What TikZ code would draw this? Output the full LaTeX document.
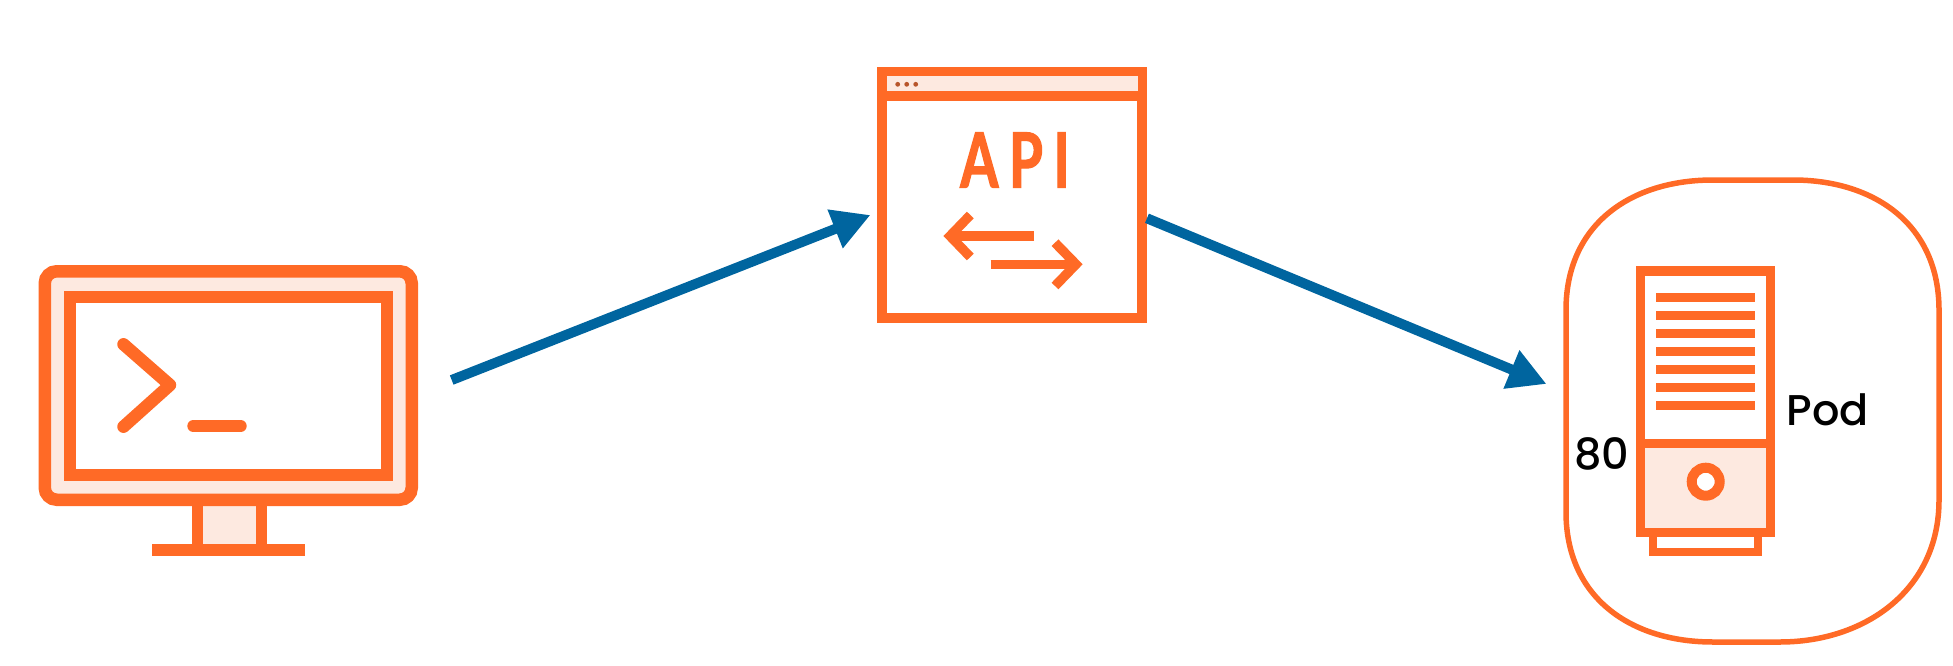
\documentclass[tikz,border=0pt]{standalone}
\usepackage{fontspec}
\usetikzlibrary{arrows.meta,calc}
\setmainfont{Poppins}
\newfontfamily\podfont{Poppins}[UprightFont=* Medium]
\newfontfamily\apifont{Lato}[FakeStretch=0.72,LetterSpace=14,BoldFeatures={FakeBold=1.6}]
\definecolor{iconorange}{HTML}{FF6A26}
\definecolor{iconlight}{HTML}{FDE9E0}
\definecolor{arrowblue}{HTML}{00659F}
\definecolor{dotbrown}{HTML}{B8552B}
\tikzset{
  iconbox/.style={draw=iconorange,rectangle,inner sep=0pt,outer sep=0.5\pgflinewidth},
  stroke/.style={draw=iconorange,line width=#1},
  roundstroke/.style={draw=iconorange,line width=#1,line cap=round,line join=round},
  flow/.style={draw=arrowblue,fill=arrowblue,line width=10pt,-{Triangle[length=38pt,width=39pt]}},
  podlabel/.style={inner sep=0pt,text=black,font=\podfont\fontsize{43}{47}\selectfont},
}
\begin{document}
\begin{tikzpicture}[x=1pt,y=-1pt]
\useasboundingbox (0,0) rectangle (1953,666);
% terminal
\draw[stroke=11pt,fill=iconlight] (197.5,500) rectangle (261,550);
\fill[iconorange] (152.3,544) rectangle (304.7,556);
\node[iconbox,line width=12.5pt,fill=iconlight,rounded corners=12pt,minimum width=367pt,minimum height=228.5pt] (terminal) at (228.25,385.5) {};
\node[iconbox,line width=12pt,fill=white,minimum width=317.5pt,minimum height=178pt] (screen) at (228.25,385.7) {};
\draw[roundstroke=12.5pt] (123.5,344.3) -- (170,385) -- (123.5,426.7);
\draw[roundstroke=12pt] (193.3,426) -- (240.7,426);
% api window
\node[iconbox,line width=9.5pt,fill=white,minimum width=260pt,minimum height=246pt] (api) at (1012.2,194.8) {};
\fill[iconlight] (886.7,76.3) rectangle (1137.7,91.3);
\draw[stroke=9.4pt] (882.2,96) -- (1142.2,96);
\foreach \dx in {897.7,906.7,915.7} \fill[dotbrown] (\dx,84.3) circle (2.4pt);
\node[inner sep=0pt,text=iconorange,font=\apifont\fontsize{76}{80}\bfseries\selectfont] (apitext) at (1015,160) {API};
\draw[stroke=9.5pt] (1034,236) -- (952,236);
\draw[stroke=9.5pt,line join=miter] (970.3,215) -- (950,236) -- (970.3,257);
\draw[stroke=9.5pt] (990.7,264.3) -- (1073,264.3);
\draw[stroke=9.5pt,line join=miter] (1055,242.7) -- (1076,264.3) -- (1055,286);
% pod outline
\node[inner sep=0pt,minimum width=373pt,minimum height=462pt] (pod) at (1752.5,411) {};
\draw[draw=iconorange,line width=5.5pt]
  (1713,180) -- (1793,180)
  .. controls (1875,180) and (1939,225) .. (1939,310)
  -- (1939,500)
  .. controls (1939,590) and (1865,642) .. (1780,642)
  -- (1713,642)
  .. controls (1630,642) and (1566,597) .. (1566,512)
  -- (1566,310)
  .. controls (1566,225) and (1630,180) .. cycle;
% server
\draw[stroke=8pt,fill=white] (1653,532) rectangle (1758.3,551.7);
\node[iconbox,line width=9.5pt,fill=white,minimum width=130pt,minimum height=261pt] (server) at (1705.5,401.7) {};
\fill[iconlight] (1645.2,443.8) rectangle (1765.8,527.5);
\draw[stroke=9pt] (1640.5,443.8) -- (1770.5,443.8);
\foreach \ly in {297.3,315.3,333.3,351.3,369.3,387.3,405.3} \draw[stroke=8.5pt] (1656,\ly) -- (1755,\ly);
\draw[stroke=10pt,fill=white] (1705.7,481.7) circle (14pt);
\node[podlabel] (podtext) at (1828,409.5) {Pod};
\node[podlabel] (port) at (1601.5,454) {80};
% connectors
\draw[flow] ($(terminal.east)+(33.7,-5.5)$) -- ($(api.west)+(-7,20.2)$);
\draw[flow] ($(api.east)+(0,23.5)$) -- ($(pod.west)+(-19.3,-27)$);
\end{tikzpicture}
\end{document}
